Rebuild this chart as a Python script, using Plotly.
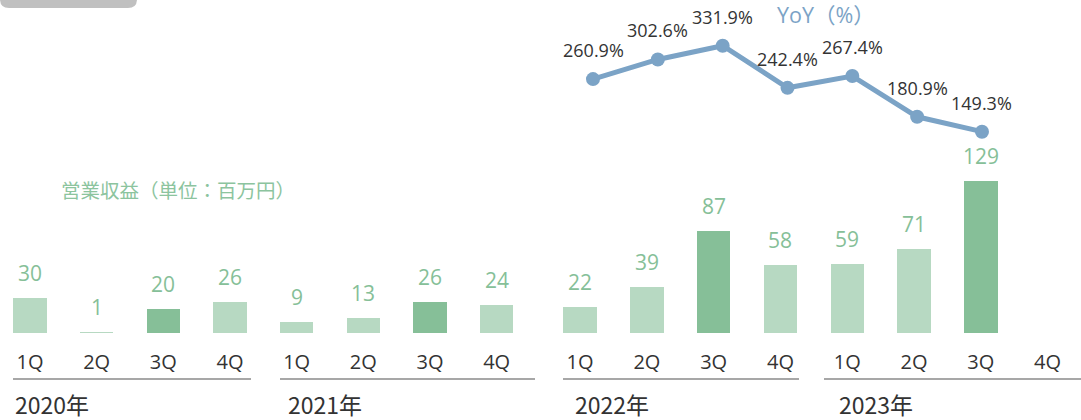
import plotly.graph_objects as go

# ---------------- data ----------------
years = ["2020", "2021", "2022", "2023"]
quarters = ["1Q", "2Q", "3Q", "4Q"]
revenue_left = [30, 1, 20, 26, 9, 13, 26, 24]          # 2020-2021
revenue_right = [22, 39, 87, 58, 59, 71, 129, None]    # 2022-2023
yoy_values = [260.9, 302.6, 331.9, 242.4, 267.4, 180.9, 149.3]  # 2022 1Q .. 2023 3Q
yoy_labels = ["260.9%", "302.6%", "331.9%", "242.4%", "267.4%", "180.9%", "149.3%"]
revenue_title = "営業収益（単位：百万円）"
yoy_title = "YoY（%）"

cats_left = [f"{y} {q}" for y in years[:2] for q in quarters]
cats_right = [f"{y} {q}" for y in years[2:] for q in quarters]
cats_yoy = cats_right[:7]

# ---------------- style ----------------
W, H = 1081, 420
LIGHT = "#b7d9c2"
DARK = "#86bf98"
LABEL_GREEN = "#86bf98"
BLUE = "#7ba3c6"
TXT = "#333333"
LAT = "Open Sans, Noto Sans CJK JP, sans-serif"
CJK = "Noto Sans CJK JP, sans-serif"


def fx(p):
    return p / W


def fy(p):
    return 1 - p / H


def bar_colors(cats):
    return [DARK if c.endswith("3Q") else LIGHT for c in cats]


fig = go.Figure()
fig.add_trace(go.Bar(x=cats_left, y=revenue_left, xaxis="x", yaxis="y",
                     marker=dict(color=bar_colors(cats_left), line_width=0),
                     width=0.5, hoverinfo="skip"))
fig.add_trace(go.Bar(x=cats_right, y=revenue_right, xaxis="x2", yaxis="y",
                     marker=dict(color=bar_colors(cats_right), line_width=0),
                     width=0.5, hoverinfo="skip"))
fig.add_trace(go.Scatter(x=cats_yoy, y=yoy_values, xaxis="x3", yaxis="y3",
                         mode="lines+markers",
                         line=dict(color=BLUE, width=5),
                         marker=dict(color=BLUE, size=14),
                         hoverinfo="skip"))

annotations = []
for cats, vals, ax in ((cats_left, revenue_left, "x"), (cats_right, revenue_right, "x2")):
    for c, v in zip(cats, vals):
        if v is None:
            continue
        annotations.append(dict(x=c, y=v, xref=ax, yref="y", text=str(v),
                                showarrow=False, yshift=25, yanchor="middle",
                                xanchor="center",
                                font=dict(family=LAT, size=21, color=LABEL_GREEN)))
for c, v, t in zip(cats_yoy, yoy_values, yoy_labels):
    annotations.append(dict(x=c, y=v, xref="x3", yref="y3", text=t,
                            showarrow=False, yshift=29, yanchor="middle",
                            xanchor="center",
                            font=dict(family=LAT, size=18, color=TXT)))

# year labels and underlines
year_axes = ["x", "x", "x2", "x2"]
year_first = [f"{y} 1Q" for y in years]
year_shift = [-17, -11, -7, -10]
year_lines = [(13, 251), (280, 535), (563, 799), (824, 1081)]
shapes = []
for y, ax, fc, sh, (a, b) in zip(years, year_axes, year_first, year_shift, year_lines):
    annotations.append(dict(x=fc, xref=ax, y=fy(404), yref="paper", text=f"{y}年",
                            showarrow=False, xanchor="left", yanchor="middle", xshift=sh,
                            font=dict(family=CJK, size=23, color=TXT)))
    shapes.append(dict(type="line", xref="paper", yref="paper",
                       x0=fx(a), x1=fx(b), y0=fy(379), y1=fy(379),
                       line=dict(color="#8a8a8a", width=1.5)))

annotations.append(dict(x=fx(178), y=fy(190), xref="paper", yref="paper",
                        text=revenue_title, showarrow=False,
                        xanchor="center", yanchor="middle",
                        font=dict(family=CJK, size=19.5, color="#8cc49e")))
annotations.append(dict(x=fx(826), y=fy(15), xref="paper", yref="paper",
                        text=yoy_title, showarrow=False,
                        xanchor="center", yanchor="middle",
                        font=dict(family=LAT, size=21.5, color=BLUE)))

# grey tab at top-left
r = 9
path = (f"M {fx(0)},{fy(-10)} L {fx(137)},{fy(-10)} L {fx(137)},{fy(8 - r)} "
        f"Q {fx(137)},{fy(8)} {fx(137 - r)},{fy(8)} L {fx(r)},{fy(8)} "
        f"Q {fx(0)},{fy(8)} {fx(0)},{fy(8 - r)} Z")
shapes.append(dict(type="path", xref="paper", yref="paper", path=path,
                   fillcolor="#c0c0c0", line=dict(width=0)))

px_per_unit = 1.178
px_per_pct = 0.471
base_px = 333
zero_pct_px = 202

tick_font = dict(family=LAT, size=20, color=TXT)
fig.update_layout(
    width=W, height=H, autosize=False,
    margin=dict(l=0, r=0, t=0, b=0),
    paper_bgcolor="white", plot_bgcolor="rgba(0,0,0,0)",
    showlegend=False, bargap=0,
    xaxis=dict(domain=[0, fx(530)], type="category", categoryorder="array",
               categoryarray=cats_left, range=[-0.45, 7.5],
               tickmode="array", tickvals=cats_left, ticktext=[c.split()[1] for c in cats_left],
               tickfont=tick_font, showgrid=False, zeroline=False, showline=False,
               ticks="", ticklabelstandoff=15, anchor="y"),
    xaxis2=dict(domain=[fx(546.7), 1], type="category", categoryorder="array",
                categoryarray=cats_right, range=[-0.5, 7.5],
                tickmode="array", tickvals=cats_right, ticktext=[c.split()[1] for c in cats_right],
                tickfont=tick_font, showgrid=False, zeroline=False, showline=False,
                ticks="", ticklabelstandoff=15, anchor="y"),
    xaxis3=dict(domain=[fx(546.7), 1], type="category", categoryorder="array",
                categoryarray=cats_yoy,
                range=[(546.7 - 593) / 64.83, (W - 593) / 64.83],
                visible=False, anchor="y3"),
    yaxis=dict(domain=[fy(base_px), 1], range=[0, base_px / px_per_unit],
               visible=False, anchor="x"),
    yaxis3=dict(domain=[0, 1],
                range=[-(H - zero_pct_px) / px_per_pct, zero_pct_px / px_per_pct],
                visible=False, anchor="x3"),
    annotations=annotations, shapes=shapes,
)

fig.write_html("out.html", config={"displayModeBar": False, "staticPlot": True},
               post_script="document.body.style.margin='0';document.body.style.overflow='hidden';")
